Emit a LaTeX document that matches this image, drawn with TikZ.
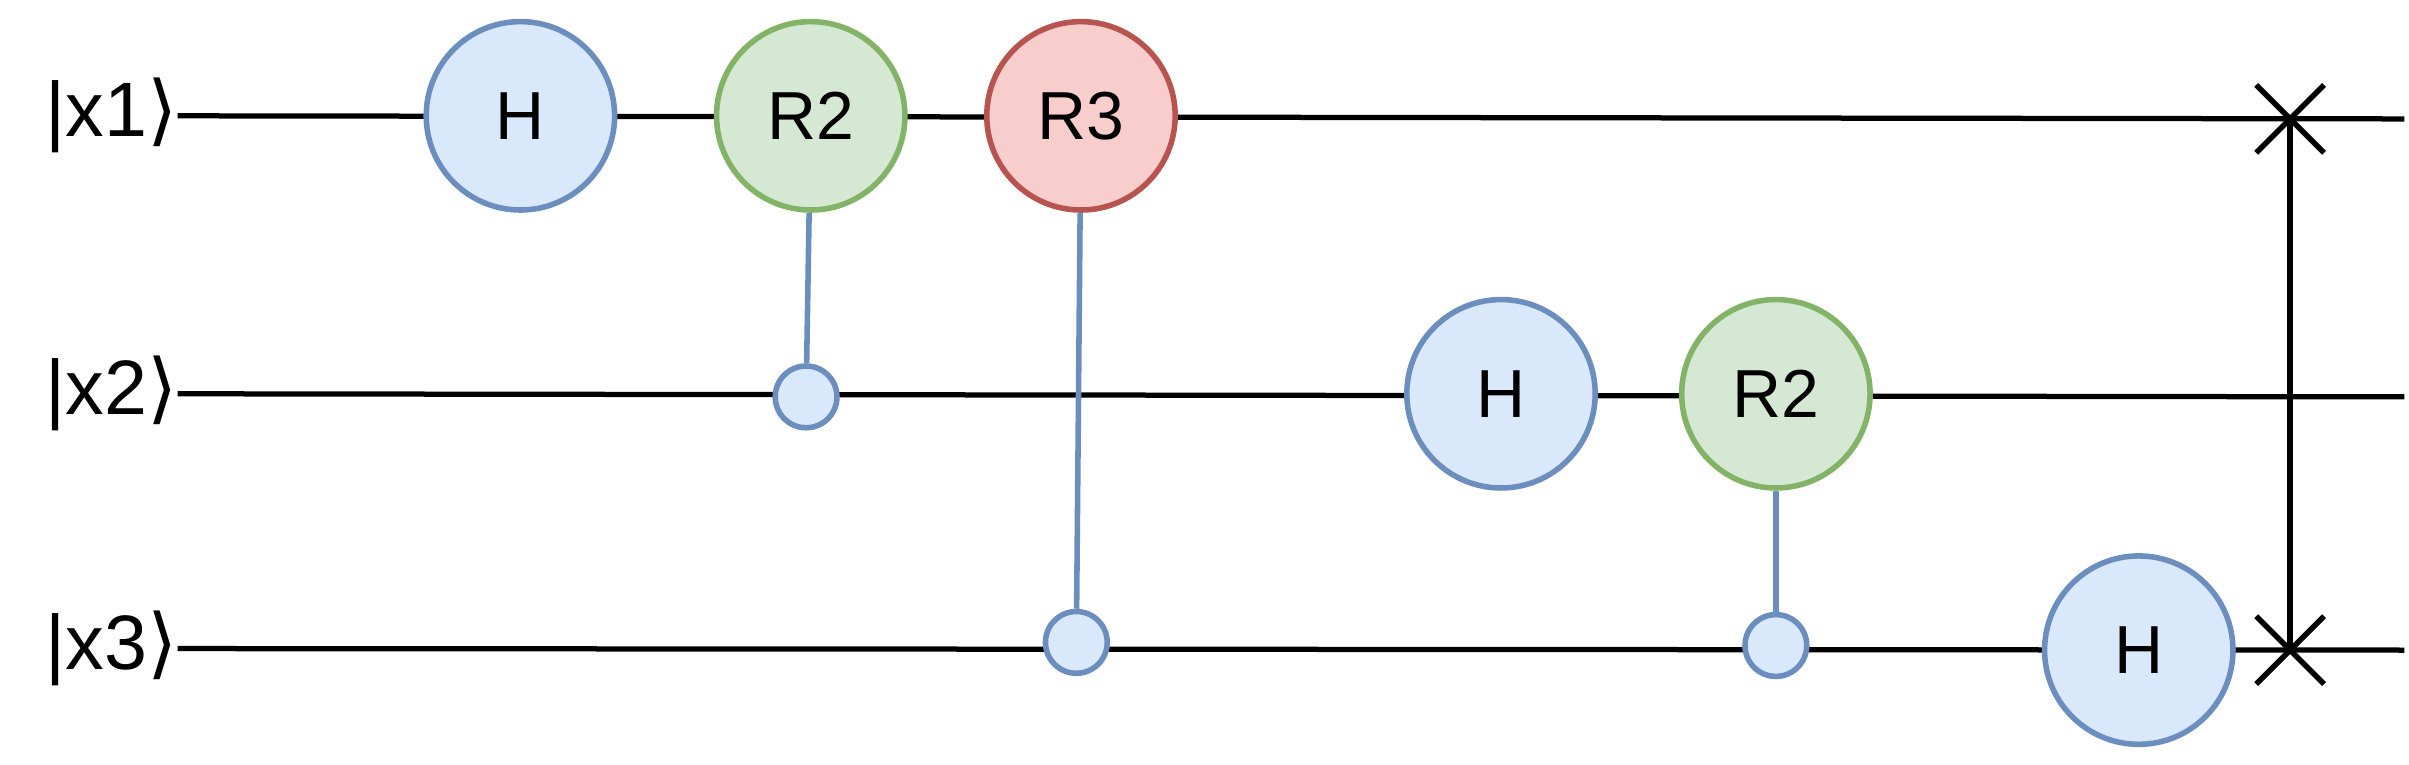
\documentclass[tikz,border=0pt]{standalone}
\usepackage{fontspec}
\setmainfont{Liberation Sans}
\newfontfamily\djv{DejaVu Sans}
\usetikzlibrary{shapes.geometric,calc}
\definecolor{bF}{HTML}{DAE8FC}\definecolor{bS}{HTML}{6C8EBF}
\definecolor{gF}{HTML}{D5E8D4}\definecolor{gS}{HTML}{82B366}
\definecolor{rF}{HTML}{F8CECC}\definecolor{rS}{HTML}{B85450}
\begin{document}
\begin{tikzpicture}[x=1pt,y=-1pt,
  wire/.style={line width=3.4pt,black},
  gate/.style={circle,minimum size=122pt,line width=3.6pt,inner sep=0pt,font=\fontsize{44}{50}\selectfont},
  hg/.style={gate,fill=bF,draw=bS},
  rg2/.style={gate,fill=gF,draw=gS},
  rg3/.style={gate,fill=rF,draw=rS},
  ctl/.style={circle,minimum size=40pt,inner sep=0pt,fill=bF,draw=bS,line width=3.6pt},
  cl/.style={draw=bS,line width=3.6pt},
  lab/.style={anchor=east,font=\fontsize{50}{58}\selectfont,inner sep=0pt},
  cross/.style={line width=3.6pt}]
\useasboundingbox (0,0) rectangle (1560,495);
\node[lab] (l1) at (115,75) {|x1{\djv ⟩}};
\node[lab] (l2) at (115,255) {|x2{\djv ⟩}};
\node[lab] (l3) at (115,420) {|x3{\djv ⟩}};
\coordinate (e1) at (1557,77);
\coordinate (e2) at (1557,257);
\coordinate (e3) at (1557,421);
\coordinate (s1) at (1483,77);
\coordinate (s3) at (1483,421);
\draw[wire] (l1.east) -- (e1);
\draw[wire] (l2.east) -- (e2);
\draw[wire] (l3.east) -- (e3);
\draw[cross] (s1) -- (s3);
\foreach \c in {s1,s3}{
 \draw[cross] ($(\c)+(-22,-22)$) -- ($(\c)+(22,22)$);
 \draw[cross] ($(\c)+(-22,22)$) -- ($(\c)+(22,-22)$);}
\node[hg] (h1) at (337,75) {H};
\node[rg2] (r21) at (525,75) {R2};
\node[rg3] (r3) at (700,75) {R3};
\node[ctl] (c1) at (522,257) {};
\node[ctl] (c2) at (697,416) {};
\node[hg] (h2) at (972,255) {H};
\node[rg2] (r22) at (1150,255) {R2};
\node[ctl] (c3) at (1150,418) {};
\node[hg] (h3) at (1385,421) {H};
\draw[cl] (r21) -- (c1);
\draw[cl] (r3) -- (c2);
\draw[cl] (r22) -- (c3);
\end{tikzpicture}
\end{document}
